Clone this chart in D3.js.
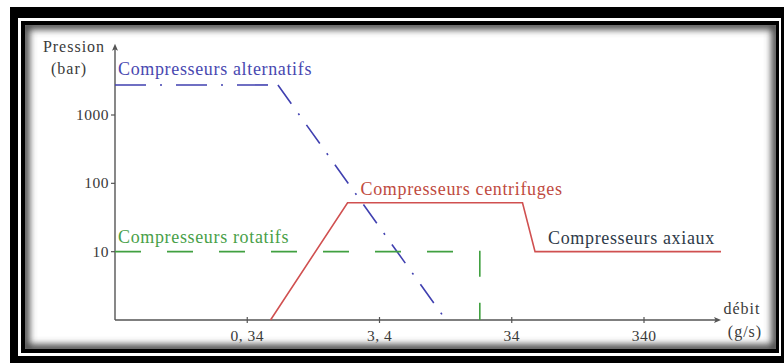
<!DOCTYPE html>
<html>
<head>
<meta charset="utf-8">
<script src="https://cdn.jsdelivr.net/npm/d3@7"></script>
<style>
  html, body { margin: 0; padding: 0; background: #ffffff; }
  svg { display: block; }
</style>
</head>
<body>
<svg id="chart" width="784" height="363"></svg>
<script>
// ---------- data ----------
const xTicks = [0.34, 3.4, 34, 340];
const xTickLabels = ["0, 34", "3, 4", "34", "340"];
const yTicks = [10, 100, 1000];
const yTickLabels = ["10", "100", "1000"];
const xDomain = [0.034, 1300];
const yDomain = [1, 11000];

const alternatifsX = [0.034, 0.58, 10.3];
const alternatifsY = [2750, 2750, 1.14];
const centrifugesX = [0.51, 1.95, 41, 51, 1300];
const centrifugesY = [1, 52, 52, 10, 10];
const rotatifsX = [0.034, 19.5, 19.5];
const rotatifsY = [10, 10, 1];

const seriesNames = ["Compresseurs alternatifs", "Compresseurs centrifuges", "Compresseurs rotatifs", "Compresseurs axiaux"];

// ---------- drawing ----------
const svg = d3.select("#chart");
const W = 784, H = 363;
const font = "'Liberation Serif'";

// frame
const defs = svg.append("defs");
const blur = defs.append("filter").attr("id", "blur").attr("x", "-10%").attr("y", "-10%").attr("width", "120%").attr("height", "120%");
blur.append("feGaussianBlur").attr("stdDeviation", 3.5);
defs.append("clipPath").attr("id", "inner").append("rect")
  .attr("x", 25).attr("y", 25).attr("width", 751).attr("height", 324);

svg.append("rect").attr("x", 10).attr("y", 7).attr("width", W - 10).attr("height", H - 7).attr("fill", "#000");
svg.append("rect").attr("x", 18).attr("y", 18).attr("width", 763).attr("height", 338).attr("fill", "#fff");
svg.append("rect").attr("x", 21).attr("y", 21).attr("width", 758).attr("height", 332).attr("fill", "#000");
svg.append("rect").attr("x", 25).attr("y", 25).attr("width", 751).attr("height", 324).attr("fill", "#fff");
svg.append("g").attr("clip-path", "url(#inner)")
  .append("rect").attr("x", 25).attr("y", 25).attr("width", 751).attr("height", 324)
  .attr("fill", "none").attr("stroke", "#444").attr("stroke-width", 9).attr("filter", "url(#blur)");

// scales
const x = d3.scaleLog().domain([0.034, 340]).range([115, 644]);
const y = d3.scaleLog().domain([1, 1000]).range([320, 115]);

const axisColor = "#555";
const textColor = "#3a3a3a";
const g = svg.append("g");

// axes
const x0 = x(xDomain[0]), x1 = x(xDomain[1]);
const y0 = y(yDomain[0]), y1 = y(yDomain[1]);
g.append("line").attr("x1", x0).attr("x2", x1 - 4).attr("y1", y0).attr("y2", y0)
  .attr("stroke", axisColor).attr("stroke-width", 1.4);
g.append("path").attr("d", `M${x1},${y0} l-7,-3 l1.5,3 l-1.5,3 Z`).attr("fill", axisColor);
g.append("line").attr("x1", x0).attr("x2", x0).attr("y1", y0).attr("y2", y1 + 4)
  .attr("stroke", axisColor).attr("stroke-width", 1.4);
g.append("path").attr("d", `M${x0},${y1} l-3,7 l3,-1.5 l3,1.5 Z`).attr("fill", axisColor);

const txt = (s, px, py, size, anchor, col, ls) => g.append("text")
  .attr("x", px).attr("y", py).attr("text-anchor", anchor || "start")
  .style("font-family", font).style("font-size", size + "px").attr("fill", col || textColor)
  .style("letter-spacing", (ls || 0) + "px").text(s);

// ticks
xTicks.forEach((t, i) => {
  g.append("line").attr("x1", x(t)).attr("x2", x(t)).attr("y1", y0 - 3).attr("y2", y0 + 3)
    .attr("stroke", axisColor).attr("stroke-width", 1.2);
  txt(xTickLabels[i], x(t), y0 + 21, 15.5, "middle", textColor, 0.5);
});
yTicks.forEach((t, i) => {
  g.append("line").attr("x1", x0 - 4).attr("x2", x0).attr("y1", y(t)).attr("y2", y(t))
    .attr("stroke", axisColor).attr("stroke-width", 1.2);
  txt(yTickLabels[i], x0 - 6, y(t) + 5, 15.5, "end", textColor, 0.5);
});

// axis titles
txt("Pression", 74, 52, 16, "middle", textColor, 1.0);
txt("(bar)", 69, 74, 16, "middle", textColor, 1.0);
txt("débit", 742, 314, 16, "middle", textColor, 1.0);
txt("(g/s)", 745, 337, 16, "middle", textColor, 1.0);

// series
const line = d3.line().x(d => x(d[0])).y(d => y(d[1]));
const blue = "#4040b0", red = "#d05050", green = "#40a040";

// alternatifs: dash-dot, each segment separately
const altPts = alternatifsX.map((v, i) => [v, alternatifsY[i]]);
const altDash = ["31,14,2,14", "23,12,2,12"];
for (let i = 0; i < altPts.length - 1; i++) {
  g.append("path").attr("d", line([altPts[i], altPts[i + 1]]))
    .attr("fill", "none").attr("stroke", blue).attr("stroke-width", 1.6)
    .attr("stroke-dasharray", altDash[i]);
}
g.append("path").attr("d", line(centrifugesX.map((v, i) => [v, centrifugesY[i]])))
  .attr("fill", "none").attr("stroke", red).attr("stroke-width", 1.6);
g.append("path").attr("d", line(rotatifsX.map((v, i) => [v, rotatifsY[i]])))
  .attr("fill", "none").attr("stroke", green).attr("stroke-width", 1.6)
  .attr("stroke-dasharray", "26,26");

// series labels
txt(seriesNames[0], x(alternatifsX[0]) + 3, y(alternatifsY[0]) - 10, 18, "start", "#4848b0", 0.65);
txt(seriesNames[1], x(centrifugesX[1]) + 13, y(centrifugesY[1]) - 8, 18, "start", "#c04a40", 0.65);
txt(seriesNames[2], x(rotatifsX[0]) + 3, y(rotatifsY[0]) - 9, 18, "start", "#48a048", 0.65);
txt(seriesNames[3], x(centrifugesX[3]) + 13, y(centrifugesY[3]) - 8, 18, "start", "#2e3a48", 0.65);
</script>
</body>
</html>
